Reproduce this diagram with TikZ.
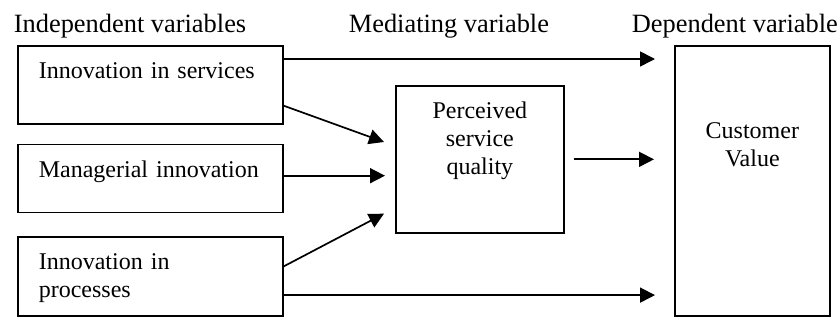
\documentclass[tikz,border=0pt]{standalone}
\usepackage{fontspec}
\setmainfont{Liberation Serif}
\usetikzlibrary{arrows.meta,positioning}

\begin{document}
\begin{tikzpicture}[x=1pt,y=-1pt,line width=1.7pt,>={Triangle[length=15pt,width=15pt]},
						head/.style={anchor=base west,inner sep=0pt,font=\fontsize{26.4}{30}\selectfont},
						block/.style={draw,rectangle,inner ysep=0pt,font=\fontsize{24}{28}\selectfont},
						leftblock/.style={block,text width=223pt,inner xsep=21pt,align=left,text height=33pt}]
		\useasboundingbox (0,0) rectangle (840,320);
		\node[head] (indep) at (13,33) {Independent variables};
		\node[head] (medi) at (348,33) {Mediating variable};
		\node[head] (dep) at (631,33) {Dependent variable};

		\node[leftblock,text depth=45pt,anchor=north west] (serv) at (17,45) {Innovation in services};
		\node[leftblock,text depth=35pt,below=19pt of serv] (manag) {Managerial innovation};
		\node[leftblock,text height=32pt,text depth=47pt,below=23pt of manag] (proc) {Innovation in\\processes};
		\node[block,inner xsep=0pt,text width=168pt,align=center,text height=33pt,text depth=114pt,anchor=north west] (qual) at (395,85) {Perceived\\service\\quality};
		\node[block,inner xsep=0pt,text width=155pt,align=center,text height=93pt,text depth=177pt,anchor=north west] (cust) at (674,45) {Customer\\Value};

		\draw[->] ([yshift=-14pt]serv.north east) -- ([xshift=-19pt,yshift=-14pt]cust.north west);
		\draw[->] ([yshift=19pt]serv.south east) -- ([xshift=-11pt,yshift=-57pt]qual.north west);
		\draw[->] ([yshift=-32pt]manag.north east) coordinate (m) -- ([xshift=-10pt]qual.west |- m);
		\draw[->] ([yshift=-30pt]proc.north east) -- ([xshift=-11pt,yshift=20pt]qual.south west);
		\draw[->] ([xshift=9pt]qual.east) -- ([xshift=-20pt]cust.west |- qual.east);
		\draw[->] ([yshift=22pt]proc.south east) coordinate (p) -- ([xshift=-19pt]cust.west |- p);
	\end{tikzpicture}
\end{document}
